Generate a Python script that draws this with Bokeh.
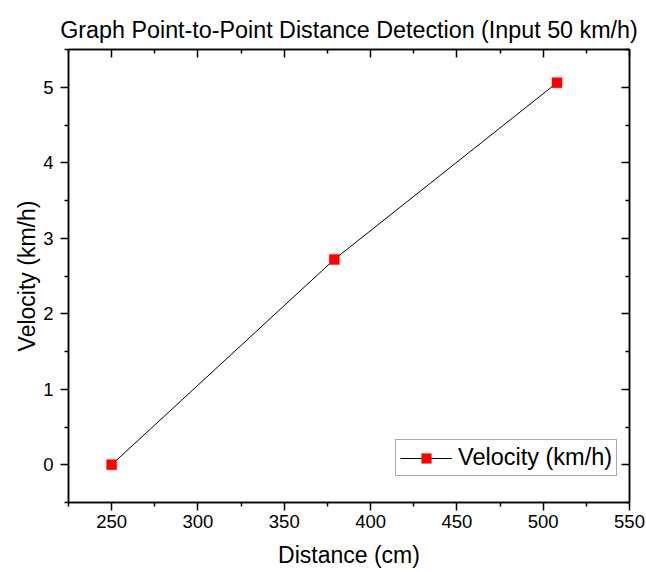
from bokeh.plotting import figure
from bokeh.models import LinearAxis, FixedTicker, Range1d, Legend, LegendItem
from bokeh.embed import file_html
from bokeh.resources import INLINE

# ---- data ----
distance_cm = [250, 379, 508]
velocity_kmh = [0.0, 2.72, 5.06]
x_ticks = [250, 300, 350, 400, 450, 500, 550]
y_ticks = [0, 1, 2, 3, 4, 5]
x_minor = [225, 275, 325, 375, 425, 475, 525]
y_minor = [-0.5, 0.5, 1.5, 2.5, 3.5, 4.5, 5.5]
title_text = "Graph Point-to-Point Distance Detection (Input 50 km/h)"
x_label = "Distance (cm)"
y_label = "Velocity (km/h)"
series_name = "Velocity (km/h)"

FONT = "Liberation Sans"

p = figure(frame_width=561, frame_height=453,
           min_border_left=68, min_border_right=17, min_border_top=49, min_border_bottom=70,
           output_backend="svg", toolbar_location=None,
           x_range=Range1d(225, 550), y_range=Range1d(-0.5, 5.5),
           x_axis_location=None, y_axis_location=None)
p.xgrid.visible = False
p.ygrid.visible = False
p.outline_line_color = "black"
p.outline_line_width = 1.5
p.background_fill_color = "white"
p.border_fill_color = "white"

p.title.text = title_text
p.title.text_font = FONT
p.title.text_font_size = "23.3px"
p.title.text_font_style = "normal"
p.title.align = "center"
p.title.vertical_align = "top"
p.title.text_color = "black"
p.title.standoff = 10


def make_axis(ticks, minor, outer, label=None):
    ax = LinearAxis(ticker=FixedTicker(ticks=ticks, minor_ticks=minor))
    ax.axis_line_color = "black"
    ax.axis_line_width = 1.5
    ax.major_tick_line_color = "black"
    ax.major_tick_line_width = 1.5
    ax.minor_tick_line_color = "black"
    ax.minor_tick_line_width = 1.5
    if outer:
        ax.major_tick_out = 8
        ax.major_tick_in = 0
        ax.minor_tick_out = 4
        ax.minor_tick_in = 0
        ax.major_label_text_font = FONT
        ax.major_label_text_font_size = "18.5px"
        ax.major_label_text_color = "black"
        ax.axis_label = label
        ax.axis_label_text_font = FONT
        ax.axis_label_text_font_size = "23px"
        ax.axis_label_text_font_style = "normal"
        ax.axis_label_text_color = "black"
    else:
        ax.major_tick_out = 0
        ax.major_tick_in = 8
        ax.minor_tick_out = 0
        ax.minor_tick_in = 4
        ax.major_label_text_font_size = "1px"
        ax.major_label_text_color = None
        ax.major_label_standoff = 0
    return ax


xb = make_axis(x_ticks, x_minor, True, x_label)
xb.major_label_standoff = 4
xb.axis_label_standoff = 11
yl = make_axis(y_ticks, y_minor, True, y_label)
yl.major_label_standoff = 7
yl.axis_label_standoff = 0
xt = make_axis(x_ticks, x_minor, False)
yr = make_axis(y_ticks, y_minor, False)
p.add_layout(xb, "below")
p.add_layout(yl, "left")
p.add_layout(xt, "above")
p.add_layout(yr, "right")

line_r = p.line(distance_cm, velocity_kmh, line_color="black", line_width=1)
mark_r = p.scatter(distance_cm, velocity_kmh, marker="square", size=10,
                   fill_color="#ff0000", line_color="#ff0000", line_width=0.5)

legend = Legend(items=[LegendItem(label=series_name, renderers=[line_r, mark_r])],
                location=(327, 26))
legend.label_text_font = FONT
legend.label_text_font_size = "23.5px"
legend.label_text_color = "black"
legend.border_line_color = "#555555"
legend.border_line_width = 1
legend.background_fill_color = "white"
legend.background_fill_alpha = 1
legend.padding = 4
legend.margin = 0
legend.spacing = 0
legend.glyph_width = 52
legend.glyph_height = 24
legend.label_standoff = 6
legend.label_height = 24
p.add_layout(legend, "center")

open("out.html", "w").write(file_html(p, INLINE))
